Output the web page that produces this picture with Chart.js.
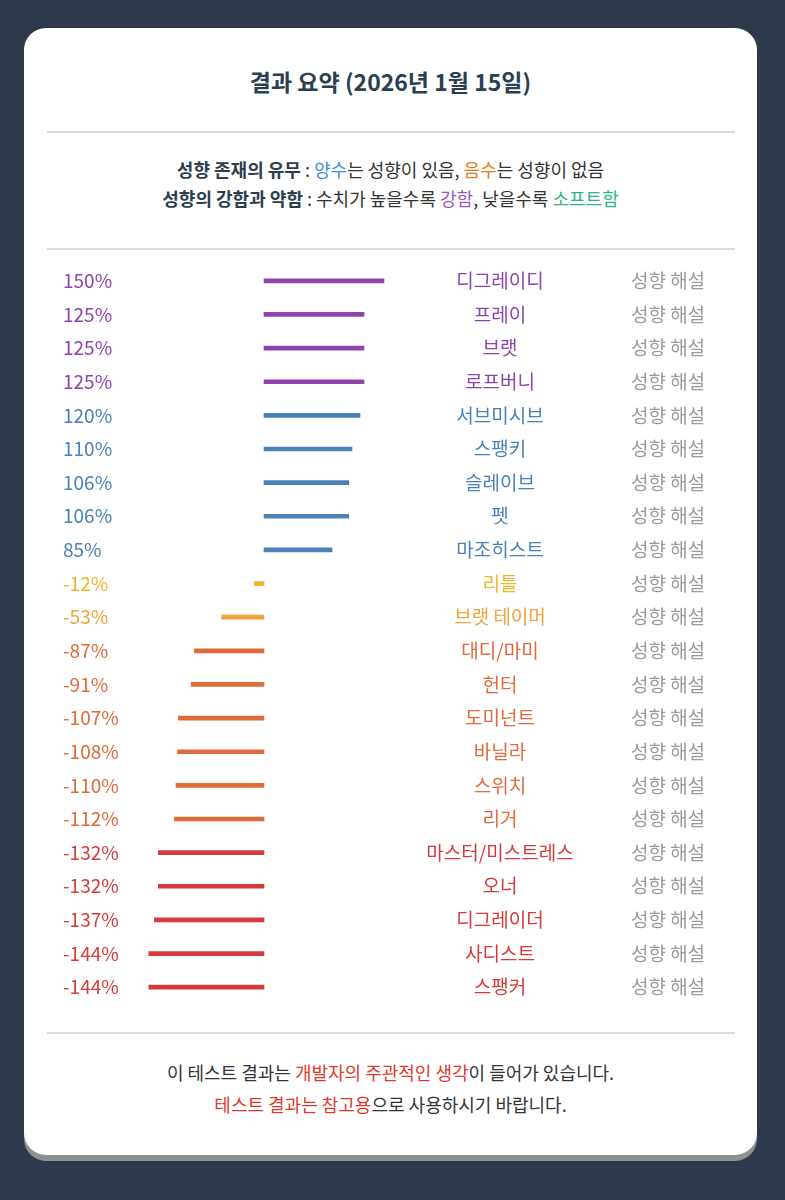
<!DOCTYPE html>
<html>
<head>
<meta charset="utf-8">
<script src="https://cdn.jsdelivr.net/npm/chart.js@4"></script>
<style>
body { margin: 0; background: #2e3a4b; font-family: "Noto Sans CJK KR", sans-serif; }
.card { position: absolute; left: 24px; top: 28px; width: 733px; height: 1127px; background: #fff; border-radius: 22px; box-shadow: 0 6px 0 #8a9390; }
.title { position: absolute; top: 36px; width: 100%; text-align: center; font-size: 23px; font-weight: bold; color: #2c3e50; }
.hr { position: absolute; left: 23px; width: 688px; height: 2px; background: #dcdcdc; }
.sub { position: absolute; top: 127px; width: 100%; text-align: center; font-size: 18px; line-height: 29px; color: #333; }
.foot { position: absolute; top: 1028px; width: 100%; text-align: center; font-size: 18px; line-height: 32px; color: #333; }
b { color: #2c3e50; }
#wrap { position: absolute; left: 16px; top: 236px; width: 700px; height: 740px; }
</style>
</head>
<body>
<div class="card">
  <div class="title">결과 요약 (2026년 1월 15일)</div>
  <div class="hr" style="top:103px"></div>
  <div class="sub"><b>성향 존재의 유무</b> : <span style="color:#3d8fd6">양수</span>는 성향이 있음, <span style="color:#e67e22">음수</span>는 성향이 없음<br>
  <b>성향의 강함과 약함</b> : 수치가 높을수록 <span style="color:#9b59b6">강함</span>, 낮을수록 <span style="color:#2bb58a">소프트함</span></div>
  <div class="hr" style="top:220px"></div>
  <div id="wrap"><canvas id="chart"></canvas></div>
  <div class="hr" style="top:1004px"></div>
  <div class="foot">이 테스트 결과는 <span style="color:#e0392b">개발자의 주관적인 생각</span>이 들어가 있습니다.<br>
  <span style="color:#e0392b">테스트 결과는 참고용</span>으로 사용하시기 바랍니다.</div>
</div>
<script>
const names = ['디그레이디', '프레이', '브랫', '로프버니', '서브미시브', '스팽키', '슬레이브', '펫', '마조히스트', '리틀', '브랫 테이머', '대디/마미', '헌터', '도미넌트', '바닐라', '스위치', '리거', '마스터/미스트레스', '오너', '디그레이더', '사디스트', '스팽커'];
const values = [150, 125, 125, 125, 120, 110, 106, 106, 85, -12, -53, -87, -91, -107, -108, -110, -112, -132, -132, -137, -144, -144];
const colors = ['#8e44ad', '#8e44ad', '#8e44ad', '#8e44ad', '#4a82b8', '#4a82b8', '#4a82b8', '#4a82b8', '#4a82b8', '#f0b429', '#eea43a', '#e06a3a', '#e06a3a', '#e06a3a', '#e06a3a', '#e06a3a', '#e06a3a', '#d63a3a', '#d63a3a', '#d63a3a', '#d63a3a', '#d63a3a'];
const hintText = '성향 해설';

const rowLabels = {
    id: 'rowLabels',
    afterDatasetsDraw(chart) {
        const ctx = chart.ctx;
        const y = chart.scales.y;
        ctx.save();
        ctx.font = '19px "Noto Sans CJK KR", sans-serif';
        ctx.textBaseline = 'middle';
        names.forEach((name, i) => {
            const py = y.getPixelForValue(i);
            ctx.fillStyle = colors[i];
            ctx.textAlign = 'left';
            ctx.fillText(values[i] + '%', 23, py);
            ctx.textAlign = 'center';
            ctx.fillText(name, 460, py);
            ctx.fillStyle = '#9a9a9a';
            ctx.fillText(hintText, 628, py);
        });
        ctx.restore();
    }
};

new Chart(document.getElementById('chart'), {
    type: 'bar',
    data: {
        labels: names,
        datasets: [{
            data: values,
            backgroundColor: colors,
            barThickness: 4,
            borderSkipped: false
        }]
    },
    options: {
        indexAxis: 'y',
        responsive: true,
        maintainAspectRatio: false,
        animation: false,
        layout: { padding: 0 },
        plugins: { legend: { display: false }, tooltip: { enabled: false } },
        scales: {
            x: { min: -280, max: 595, display: false },
            y: { display: false }
        }
    },
    plugins: [rowLabels]
});
</script>
</body>
</html>
